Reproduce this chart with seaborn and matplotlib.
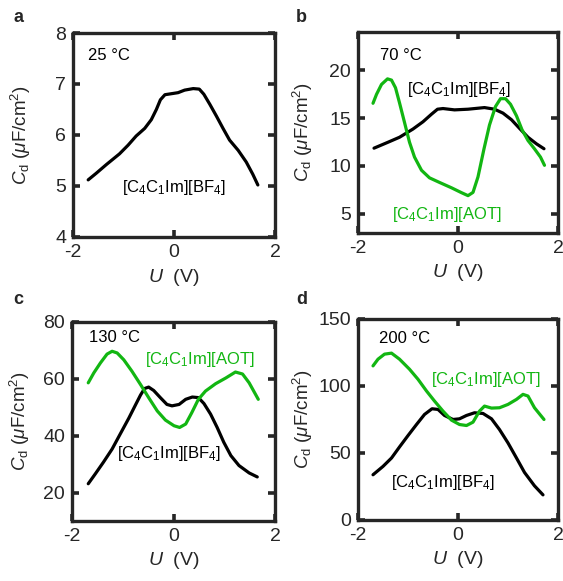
import numpy as np
import matplotlib
matplotlib.use('Agg')
import matplotlib.pyplot as plt
import seaborn as sns

sns.set_style('ticks')
plt.rcParams['font.family'] = ['Liberation Sans', 'DejaVu Sans']
plt.rcParams['mathtext.fontset'] = 'custom'
plt.rcParams['mathtext.rm'] = 'Liberation Sans'
plt.rcParams['mathtext.it'] = 'Liberation Sans:italic'
plt.rcParams['mathtext.bf'] = 'Liberation Sans:bold'
plt.rcParams['axes.unicode_minus'] = False

GREEN = '#12b612'
TXT = '#262626'

# panel a, 25 C, [C4C1Im][BF4]
u_a_bf4 = [-1.70, -1.54, -1.34, -1.08, -0.91, -0.75, -0.58, -0.45, -0.35, -0.27, -0.18, -0.05, 0.08, 0.21, 0.38,
           0.50, 0.59, 0.71, 0.84, 0.97, 1.10, 1.27, 1.43, 1.56, 1.66]
c_a_bf4 = [5.12, 5.25, 5.42, 5.63, 5.80, 5.98, 6.13, 6.30, 6.50, 6.69, 6.79, 6.81, 6.83, 6.88, 6.91,
           6.90, 6.80, 6.60, 6.37, 6.13, 5.90, 5.70, 5.47, 5.23, 5.02]

# panel b, 70 C
u_b_bf4 = [-1.68, -1.40, -1.17, -0.90, -0.70, -0.53, -0.41, -0.30, -0.07, 0.20, 0.53, 0.73, 0.90, 1.07, 1.23,
           1.40, 1.57, 1.72]
c_b_bf4 = [11.86, 12.48, 13.0, 13.86, 14.62, 15.41, 15.93, 16.0, 15.86, 15.93, 16.1, 15.93, 15.52, 14.83, 13.93,
           13.0, 12.31, 11.8]
u_b_aot = [-1.70, -1.63, -1.53, -1.41, -1.33, -1.25, -1.17, -1.07, -0.97, -0.87, -0.73, -0.57, -0.37, -0.13,
           0.07, 0.20, 0.30, 0.40, 0.52, 0.63, 0.75, 0.85, 0.95, 1.05, 1.17, 1.28, 1.40, 1.53, 1.65, 1.73]
c_b_aot = [16.55, 17.48, 18.52, 19.1, 18.97, 18.17, 16.6, 14.55, 12.48, 10.93, 9.55, 8.76, 8.28, 7.72,
           7.21, 6.90, 7.24, 8.86, 11.79, 14.28, 16.21, 17.03, 17.03, 16.45, 15.24, 13.79, 12.66, 11.79, 10.93, 10.07]

# panel c, 130 C
u_c_bf4 = [-1.68, -1.54, -1.38, -1.21, -1.05, -0.88, -0.75, -0.65, -0.57, -0.49, -0.39, -0.26, -0.13, -0.03,
           0.11, 0.24, 0.37, 0.49, 0.60, 0.73, 0.86, 0.99, 1.13, 1.29, 1.49, 1.65]
c_c_bf4 = [23.1, 26.6, 30.7, 35.3, 40.6, 46.2, 50.8, 54.3, 56.6, 57.1, 55.9, 53.4, 51.0, 50.5,
           51.0, 52.8, 53.6, 53.4, 51.3, 47.6, 42.9, 37.7, 33.0, 29.5, 26.9, 25.5]
u_c_aot = [-1.68, -1.57, -1.44, -1.31, -1.21, -1.11, -0.98, -0.82, -0.65, -0.49, -0.32, -0.16, 0.01, 0.12,
           0.24, 0.36, 0.49, 0.63, 0.83, 1.03, 1.22, 1.36, 1.49, 1.67]
c_c_aot = [58.6, 62.1, 65.6, 68.7, 69.7, 69.1, 66.7, 62.7, 58.0, 53.4, 48.7, 45.5, 43.5, 42.9,
           44.1, 48.1, 52.8, 55.7, 58.3, 60.3, 62.4, 61.7, 58.6, 52.8]

# panel d, 200 C
u_d_bf4 = [-1.70, -1.50, -1.33, -1.17, -1.00, -0.83, -0.67, -0.52, -0.40, -0.27, -0.10, 0.03, 0.17, 0.33,
           0.50, 0.67, 0.83, 1.00, 1.17, 1.33, 1.53, 1.70]
c_d_bf4 = [33.75, 40.0, 46.25, 54.5, 63.0, 71.25, 78.75, 83.0, 82.5, 78.0, 75.0, 75.5, 78.0, 80.0,
           79.5, 75.5, 67.5, 57.5, 46.25, 35.5, 25.5, 18.75]
u_d_aot = [-1.70, -1.60, -1.47, -1.33, -1.17, -0.97, -0.80, -0.63, -0.47, -0.30, -0.13, 0.03, 0.17, 0.30,
           0.43, 0.53, 0.67, 0.83, 1.00, 1.17, 1.30, 1.40, 1.53, 1.72]
c_d_aot = [115.0, 120.0, 123.75, 124.5, 120.0, 112.5, 105.0, 96.25, 88.75, 81.25, 74.5, 71.25, 70.5, 73.0,
           81.25, 85.0, 83.5, 83.75, 86.25, 90.0, 93.75, 92.5, 83.75, 75.0]

x_ticks = [-2, 0, 2]
lbl_bf4 = r'[C$_4$C$_1$Im][BF$_4$]'
lbl_aot = r'[C$_4$C$_1$Im][AOT]'

fig = plt.figure(figsize=(5.63, 5.81), dpi=100)

panels = [
    # letter, rect, ylim, yticks, temp, temp pos, curves, label texts, ylabel x, letter pos (px)
    ('a', [0.1297, 0.5921, 0.3588, 0.3511], (4, 8), [4, 5, 6, 7, 8], '25 °C', (0.075, 0.89),
     [(u_a_bf4, c_a_bf4, 'black')],
     [(lbl_bf4, 0.50, 0.245, 'black')], -0.20, (13, 17)),
    ('b', [0.6359, 0.5990, 0.3552, 0.3460], (3, 24), [5, 10, 15, 20], '70 °C', (0.11, 0.885),
     [(u_b_bf4, c_b_bf4, 'black'), (u_b_aot, c_b_aot, GREEN)],
     [(lbl_bf4, 0.505, 0.716, 'black'), (lbl_aot, 0.445, 0.09, GREEN)], -0.215, (296, 17)),
    ('c', [0.1279, 0.1033, 0.3606, 0.3425], (10, 80), [20, 40, 60, 80], '130 °C', (0.085, 0.92),
     [(u_c_bf4, c_c_bf4, 'black'), (u_c_aot, c_c_aot, GREEN)],
     [(lbl_aot, 0.63, 0.81, GREEN), (lbl_bf4, 0.48, 0.34, 'black')], -0.197, (13, 300)),
    ('d', [0.6359, 0.1050, 0.3552, 0.3460], (0, 150), [0, 50, 100, 150], '200 °C', (0.105, 0.905),
     [(u_d_bf4, c_d_bf4, 'black'), (u_d_aot, c_d_aot, GREEN)],
     [(lbl_aot, 0.64, 0.70, GREEN), (lbl_bf4, 0.425, 0.185, 'black')], -0.215, (296, 300)),
]

for letter, rect, ylim, yticks, temp, tpos, curves, texts, ylab_x, lpos in panels:
    ax = fig.add_axes(rect)
    for u, c, col in curves:
        sns.lineplot(x=u, y=c, ax=ax, color=col, linewidth=2.3, sort=False,
                     solid_joinstyle='round', solid_capstyle='round')
    ax.set_xlim(-2, 2)
    ax.set_ylim(*ylim)
    ax.set_xticks(x_ticks)
    ax.set_yticks(yticks)
    ax.tick_params(direction='in', length=5, width=2.6, top=True, right=True,
                   labelsize=14, labelcolor=TXT, color='#262626', pad=5)
    for sp in ax.spines.values():
        sp.set_linewidth(2.4)
        sp.set_color('#262626')
    ax.set_xlabel(r'$U$  (V)', fontsize=14, color=TXT)
    ax.set_ylabel(r'$C_\mathrm{d}$ ($\mu$F/cm$^2$)', fontsize=13.5, color=TXT)
    ax.xaxis.set_label_coords(0.5, -0.145)
    ax.yaxis.set_label_coords(ylab_x, 0.5)
    ax.text(tpos[0], tpos[1], temp, transform=ax.transAxes, fontsize=12,
            ha='left', va='center', color='black')
    for s, tx, ty, col in texts:
        ax.text(tx, ty, s, transform=ax.transAxes, fontsize=12,
                ha='center', va='center', color=col)
    fig.text(lpos[0] / 563, 1 - lpos[1] / 581, letter, fontsize=13,
             fontweight='bold', ha='left', va='center')

fig.savefig('out.png', dpi=100)
